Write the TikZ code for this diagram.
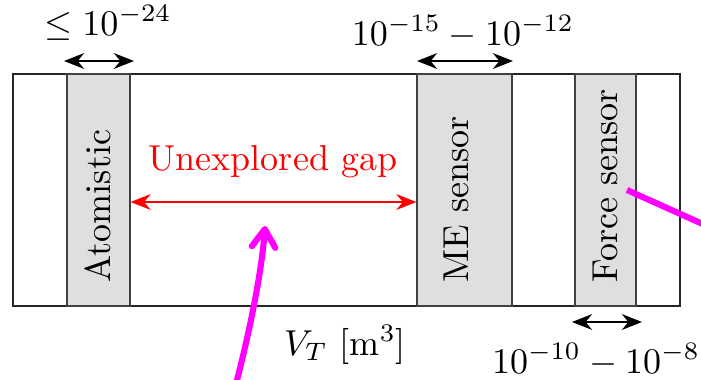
\documentclass[tikz,border=0pt]{standalone}
\usepackage{amsmath}
\usetikzlibrary{arrows.meta,fit}
\definecolor{magpink}{RGB}{255,0,255}
\begin{document}
\begin{tikzpicture}[x=0.2775pt,y=-0.2775pt,
  frame/.style={draw=black!85,line width=0.3pt},
  graybox/.style={draw=black!75,fill=gray!25,line width=0.3pt,inner sep=0pt},
  boxlabel/.style={rotate=90,anchor=base west,inner sep=0pt,text=black},
  widtharrow/.style={{Stealth[length=5.6pt,width=4.4pt]}-{Stealth[length=5.6pt,width=4.4pt]},line width=0.35pt},
  gaparrow/.style={widtharrow,draw=red,fill=red,line width=0.45pt},
  mag/.style={draw=magpink,line width=1.7pt},
  lab/.style={anchor=base,inner sep=0pt}]
\useasboundingbox (0,0) rectangle (701,379);
\clip (0,0) rectangle (701,379);
% frame
\coordinate (fa) at (13,74);
\coordinate (fb) at (680,306);
\draw[frame] (fa) rectangle (fb);
\draw[black!85,line width=0.6pt] (fb) -- (fb |- fa);
% gray boxes
\node[graybox,fit={(67,74) (130,306)}] (atom) {};
\node[graybox,fit={(417,74) (512,306)}] (me) {};
\node[graybox,fit={(575,74) (636,306)}] (force) {};
% box labels
\node[boxlabel] (atomlab) at (110,283) {Atomistic};
\node[boxlabel] (melab) at (468,283) {ME sensor};
\node[boxlabel] (forcelab) at (617,283) {Force sensor};
% width arrows
\coordinate (a1) at (64,61); \coordinate (a2) at (134,61);
\draw[widtharrow] (a1) -- (a2);
\node[lab] (atomw) at (108,35) {$\leq 10^{-24}$};
\coordinate (b1) at (417,61); \coordinate (b2) at (513,61);
\draw[widtharrow] (b1) -- (b2);
\node[lab] (mew) at (463,45) {$10^{-15}-10^{-12}$};
\coordinate (c1) at (572,322); \coordinate (c2) at (642,322);
\draw[widtharrow] (c1) -- (c2);
\node[lab] (forcew) at (596,373) {$10^{-10}-10^{-8}$};
% gap arrow
\coordinate (gapy) at (0,202);
\draw[gaparrow] (atom.east |- gapy) -- (me.west |- gapy);
\node[lab,text=red] (gaplab) at (273,170) {Unexplored gap};
% axis label
\node[lab] (axis) at (345,355) {$V_T$ [m$^3$]};
% magenta annotations
\coordinate (m1) at (236,384);
\coordinate (m2) at (265,226);
\draw[mag,-{Straight Barb[length=5pt,width=6.5pt,round]}] (m1) .. controls (250,330) and (262,270) .. (m2);
\coordinate (n1) at (627,190);
\coordinate (n2) at (745,243);
\draw[mag] (n1) -- (n2);
\end{tikzpicture}
\end{document}
